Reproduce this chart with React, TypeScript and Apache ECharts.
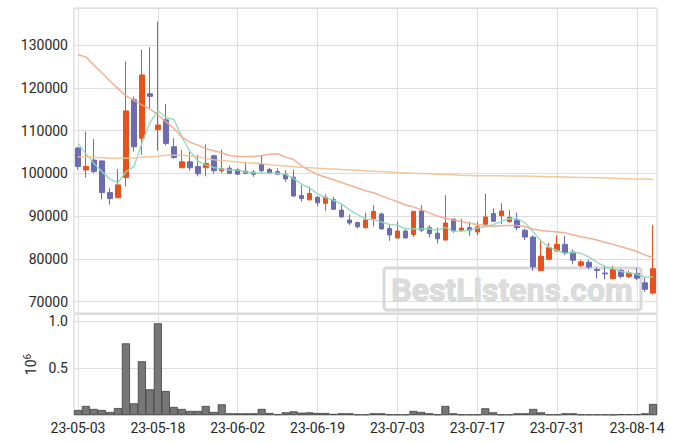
import React, { useEffect, useRef } from 'react';
import * as echarts from 'echarts';

const dates = [
  '23-05-03', '23-05-04', '23-05-08', '23-05-09', '23-05-10', '23-05-11', '23-05-12', '23-05-15', '23-05-16', '23-05-17',
  '23-05-18', '23-05-19', '23-05-22', '23-05-23', '23-05-24', '23-05-25', '23-05-26', '23-05-30', '23-05-31', '23-06-01',
  '23-06-02', '23-06-05', '23-06-07', '23-06-08', '23-06-09', '23-06-12', '23-06-13', '23-06-14', '23-06-15', '23-06-16',
  '23-06-19', '23-06-20', '23-06-21', '23-06-22', '23-06-23', '23-06-26', '23-06-27', '23-06-28', '23-06-29', '23-06-30',
  '23-07-03', '23-07-04', '23-07-05', '23-07-06', '23-07-07', '23-07-10', '23-07-11', '23-07-12', '23-07-13', '23-07-14',
  '23-07-17', '23-07-18', '23-07-19', '23-07-20', '23-07-21', '23-07-24', '23-07-25', '23-07-26', '23-07-27', '23-07-28',
  '23-07-31', '23-08-01', '23-08-02', '23-08-03', '23-08-04', '23-08-07', '23-08-08', '23-08-09', '23-08-10', '23-08-11',
  '23-08-14', '23-08-16', '23-08-17',
];

const opens = [
  105900, 100800, 103100, 102900, 95500, 94300, 99000, 117200, 108200, 118600,
  110200, 112500, 106200, 101300, 102700, 101600, 101300, 104100, 100600, 101200,
  100900, 100500, 100300, 102200, 100900, 100400, 99800, 99100, 94800, 93800,
  94400, 93000, 93900, 91400, 89100, 88500, 87300, 89400, 90500, 87100,
  84900, 86500, 85700, 91200, 87300, 86000, 84400, 89300, 86600, 87300,
  86300, 88100, 90600, 90100, 88700, 89100, 86700, 85100, 77300, 79900,
  81900, 83400, 81600, 78500, 79200, 77500, 76700, 75400, 77300, 75900,
  76600, 74400, 72000,
];
const closes = [
  101600, 101600, 100400, 95500, 94100, 97300, 114600, 106200, 123000, 118000,
  111300, 107000, 103700, 102700, 101300, 99900, 102300, 100600, 101100, 100000,
  99800, 100000, 99800, 100600, 100000, 99800, 98700, 94700, 94100, 95300,
  93100, 94400, 91600, 89800, 88400, 87500, 89100, 91100, 87000, 85600,
  86500, 84900, 91100, 86700, 85900, 84700, 88400, 86500, 87200, 86600,
  87500, 89800, 88800, 91200, 89700, 87300, 85100, 78100, 80600, 82600,
  83400, 81500, 79700, 79300, 78100, 77300, 76500, 77500, 75900, 76700,
  75500, 72900, 77700,
];
const lows = [
  100800, 99000, 100000, 93900, 92700, 94300, 96900, 105100, 104300, 115200,
  105300, 106500, 103400, 101300, 100600, 99300, 99300, 99900, 100100, 99800,
  99600, 99800, 99200, 100200, 99800, 99600, 98000, 94500, 93400, 93700,
  92300, 91200, 91400, 89700, 87900, 87100, 87100, 87600, 86900, 84200,
  84800, 84800, 85100, 86300, 85000, 83600, 84400, 86100, 86300, 85400,
  85500, 87900, 88700, 88100, 88400, 86700, 84400, 77200, 77300, 79700,
  81600, 80900, 78700, 78100, 77600, 75400, 75200, 75200, 75400, 75500,
  75000, 72300, 71700,
];
const highs = [
  106200, 109800, 108000, 103000, 96600, 101000, 126200, 118000, 128900, 129500,
  135500, 116200, 108200, 105500, 105100, 104300, 106800, 104300, 105600, 101800,
  101200, 102700, 100700, 104100, 101300, 101200, 100700, 100900, 97200, 96900,
  94700, 95100, 94500, 92600, 90400, 88700, 90800, 92600, 90800, 87900,
  88700, 86900, 91100, 92600, 87900, 87300, 94900, 89400, 89400, 88700,
  88700, 95300, 91800, 93000, 91400, 90800, 87100, 85500, 84400, 83700,
  85500, 85400, 82200, 79700, 79800, 78100, 78500, 78300, 77700, 77300,
  77900, 75600, 87900,
];
const volumes = [
  53000, 96000, 64000, 53000, 32000, 74000, 762000, 124000, 571000, 273000,
  975000, 255000, 85000, 64000, 43000, 43000, 96000, 32000, 113000, 18000,
  18000, 18000, 18000, 64000, 21000, 7000, 28000, 39000, 25000, 28000,
  21000, 21000, 11000, 18000, 18000, 5000, 5000, 18000, 18000, 5000,
  5000, 5000, 43000, 32000, 18000, 5000, 96000, 18000, 5000, 5000,
  5000, 71000, 28000, 5000, 5000, 18000, 18000, 64000, 28000, 5000,
  5000, 18000, 18000, 5000, 5000, 5000, 5000, 3000, 8000, 8000,
  8000, 18000, 117000,
];
const ma5 = [
  107000, 104500, 102300, 100400, 98640, 97780, 100380, 101540, 107040, 111820,
  114620, 113100, 112600, 108540, 105200, 102920, 101980, 101360, 101040, 100780,
  100760, 100300, 100140, 100040, 100040, 100040, 99780, 98760, 97460, 96520,
  95180, 94320, 93700, 92840, 91460, 90340, 89280, 89180, 88620, 88060,
  87860, 87020, 87020, 86960, 87020, 86660, 87360, 86440, 86540, 86680,
  87240, 87520, 87980, 88780, 89400, 89360, 88420, 86280, 84160, 82740,
  81960, 81240, 81560, 81300, 80400, 79180, 78180, 77740, 77060, 76780,
  76420, 75700, 75740,
];
const ma20 = [
  127700, 127200, 125300, 123500, 121600, 119800, 118100, 117050, 116000, 115000,
  113700, 112100, 110500, 108500, 107300, 106600, 105800, 105300, 104800, 104110,
  104020, 103940, 103910, 104165, 104460, 104585, 103790, 103215, 101770, 100635,
  99725, 99095, 98490, 97845, 97200, 96580, 95920, 95445, 94740, 94020,
  93355, 92600, 92165, 91470, 90765, 90010, 89495, 89085, 88740, 88305,
  88025, 87795, 87655, 87725, 87790, 87780, 87580, 86930, 86610, 86460,
  86305, 86135, 85565, 85195, 84805, 84435, 83840, 83390, 82825, 82330,
  81730, 80885, 80330,
];
const ma60 = [
  103900, 103850, 103750, 103650, 103550, 103500, 103500, 103600, 103750, 103850,
  104000, 104250, 104250, 104200, 104100, 103900, 103500, 103200, 103000, 102800,
  102650, 102500, 102400, 102250, 102000, 101850, 101700, 101550, 101400, 101300,
  101200, 101100, 101000, 100900, 100800, 100700, 100600, 100500, 100400, 100300,
  100200, 100100, 100000, 99950, 99900, 99800, 99750, 99650, 99550, 99500,
  99450, 99450, 99450, 99450, 99400, 99400, 99350, 99300, 99250, 99200,
  99200, 99150, 99100, 99050, 99000, 98950, 98900, 98850, 98800, 98750,
  98700, 98650, 98600,
];

const FONT = 'Roboto';
const TEXT = '#262626';
const GRID = '#dedede';
const BORDER = '#d2d2d2';
const UP = '#e8501c';
const DOWN = '#6c6cb4';

export default function App() {
  const ref = useRef<HTMLDivElement>(null);
  useEffect(() => {
    const chart = echarts.init(ref.current!, null, { renderer: 'svg' });
    const candles = opens.map((o, i) => [o, closes[i], lows[i], highs[i]]);
    const option: any = {
      animation: false,
      backgroundColor: '#ffffff',
      textStyle: { fontFamily: FONT },
      grid: [
        { left: 74, right: 18, top: 8, height: 305, show: true, borderColor: BORDER, borderWidth: 1, backgroundColor: 'transparent' },
        { left: 74, right: 18, top: 314, height: 101, show: true, borderColor: BORDER, borderWidth: 1, backgroundColor: 'transparent' },
      ],
      xAxis: [
        {
          type: 'category', gridIndex: 0, data: dates, boundaryGap: true,
          axisLine: { show: false }, axisTick: { show: false, interval: 9, alignWithLabel: true },
          axisLabel: { show: false, interval: 9 },
          splitLine: { show: true, interval: 9, alignWithLabel: true, lineStyle: { color: GRID, width: 1 } },
        },
        {
          type: 'category', gridIndex: 1, data: dates, boundaryGap: true,
          axisLine: { show: false }, axisTick: { show: false, interval: 9, alignWithLabel: true },
          axisLabel: { interval: 9, color: TEXT, fontSize: 14, margin: 6, fontFamily: FONT },
          splitLine: { show: true, interval: 9, alignWithLabel: true, lineStyle: { color: GRID, width: 1 } },
        },
      ],
      yAxis: [
        {
          type: 'value', gridIndex: 0, min: 67350, max: 138650, splitNumber: 7, scale: true,
          axisLine: { show: false }, axisTick: { show: false },
          axisLabel: {
            color: TEXT, fontSize: 14, margin: 6, showMinLabel: false, showMaxLabel: false, fontFamily: FONT,
            formatter: (v: number) => String(Math.round(v)),
          },
          splitLine: { show: true, lineStyle: { color: GRID, width: 1 } },
        },
        {
          type: 'value', gridIndex: 1, min: 0, max: 1074500, interval: 500000,
          name: '{a|10}{b|6}', nameLocation: 'middle', nameRotate: 90, nameGap: 34,
          nameTextStyle: {
            color: TEXT, fontSize: 14, fontFamily: FONT,
            rich: {
              a: { fontSize: 14, color: TEXT, fontFamily: FONT },
              b: { fontSize: 10, color: TEXT, fontFamily: FONT, verticalAlign: 'top', padding: [0, 0, 6, 0] },
            },
          },
          axisLine: { show: false }, axisTick: { show: false },
          axisLabel: {
            color: TEXT, fontSize: 14, margin: 6, showMaxLabel: false, fontFamily: FONT,
            formatter: (v: number) => (v === 0 ? '' : (v / 1e6).toFixed(1)),
          },
          splitLine: { show: true, lineStyle: { color: GRID, width: 1 } },
        },
      ],
      graphic: [
        {
          type: 'rect', z: 1, silent: true,
          shape: { x: 384, y: 268, width: 257, height: 42, r: 3 },
          style: { fill: 'rgba(255,255,255,0)', stroke: '#d8d8d8', lineWidth: 3 },
        },
        {
          type: 'text', z: 1, silent: true, x: 512, y: 290,
          style: {
            text: 'BestListens.com', font: 'bold 32px Roboto', fill: '#dcdcdc',
            stroke: '#cccccc', lineWidth: 0.8, align: 'center', verticalAlign: 'middle',
          },
        },
      ],
      series: [
        {
          type: 'candlestick', name: 'price', xAxisIndex: 0, yAxisIndex: 0, data: candles,
          barWidth: 5,
          itemStyle: { color: UP, color0: DOWN, borderColor: UP, borderColor0: DOWN, borderWidth: 1 },
        },
        {
          type: 'line', name: 'MA5', xAxisIndex: 0, yAxisIndex: 0, data: ma5, showSymbol: false, smooth: false,
          lineStyle: { color: '#8fd9bb', width: 1.5, opacity: 0.9 },
        },
        {
          type: 'line', name: 'MA20', xAxisIndex: 0, yAxisIndex: 0, data: ma20, showSymbol: false,
          lineStyle: { color: '#f0a886', width: 1.5, opacity: 0.9 },
        },
        {
          type: 'line', name: 'MA60', xAxisIndex: 0, yAxisIndex: 0, data: ma60, showSymbol: false,
          lineStyle: { color: '#f2c193', width: 1.5, opacity: 0.9 },
        },
        {
          type: 'bar', name: 'volume', xAxisIndex: 1, yAxisIndex: 1, data: volumes,
          barWidth: '100%',
          itemStyle: { color: '#777777', borderColor: '#2e2e2e', borderWidth: 0.7 },
        },
      ],
    };
    chart.setOption(option);
    return () => chart.dispose();
  }, []);
  return (
    <div
      ref={ref}
      style={{ position: 'fixed', left: 0, top: 0, width: 675, height: 444, background: '#ffffff' }}
    />
  );
}
